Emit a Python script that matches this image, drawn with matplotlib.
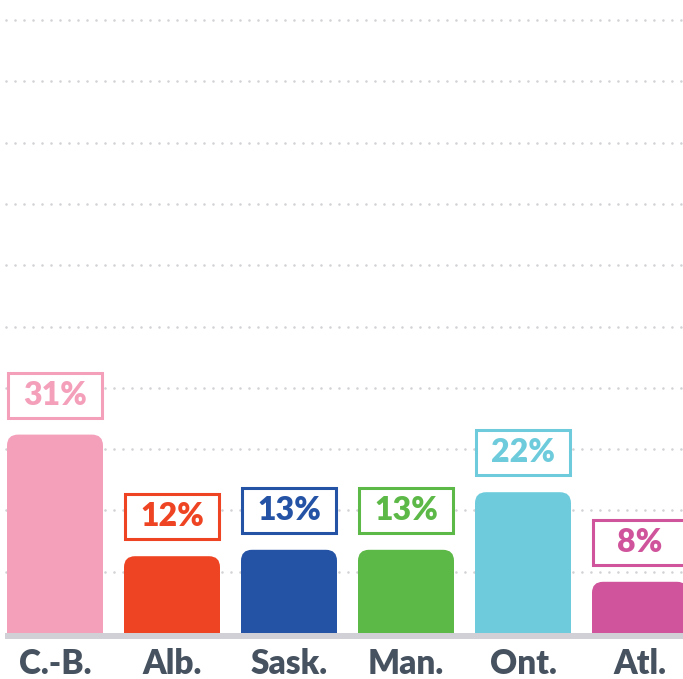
import matplotlib.pyplot as plt
from matplotlib.patches import FancyBboxPatch, Rectangle

plt.rcParams['font.family'] = ['Lato', 'DejaVu Sans']

regions = ["C.-B.", "Alb.", "Sask.", "Man.", "Ont.", "Atl."]
values = [31, 12, 13, 13, 22, 8]
colors = ["#f4a0bb", "#ef4423", "#2453a6", "#5cb947", "#6ecbdc", "#d0549b"]

W, H, DPI = 683, 679, 100
PX_X = 117.0          # px per x unit
PX_Y = 6.4            # px per y unit
BASE = 633            # baseline (px from top)
grid_levels = [61.3 / PX_Y * k for k in range(1, 11)]

fig = plt.figure(figsize=(W / DPI, H / DPI), dpi=DPI)
ax = fig.add_axes([0, (H - BASE) / H, 1, BASE / H])
ax.set_xlim(-55 / PX_X, (W - 55) / PX_X)
ax.set_ylim(0, BASE / PX_Y)
ax.axis("off")

# dotted gridlines
for g in grid_levels:
    ax.plot([-0.42, 6], [g, g], color="#d2d2d6", lw=1.9,
            linestyle=(0, (0.01, 3.4)), dash_capstyle="round", zorder=1)

bw = 96 / PX_X
r = 11 / PX_X
for i, (v, c) in enumerate(zip(values, colors)):
    bar = FancyBboxPatch((i - bw / 2, -5), bw, v + 5,
                         boxstyle=f"round,pad=0,rounding_size={r}",
                         mutation_aspect=PX_X / PX_Y,
                         fc=c, ec="none", zorder=2)
    ax.add_patch(bar)
    # label box
    y0 = v + 17 / PX_Y
    bh = 45 / PX_Y
    ax.add_patch(Rectangle((i - bw / 2 + 0.012, y0), bw - 0.024, bh, fc="white",
                           ec=c, lw=2.2, zorder=3))
    ax.text(i, y0 + bh / 2, f"{v}%", ha="center", va="center", color=c,
            fontsize=23, fontweight="heavy", zorder=4)
    ax.text(i, -31 / PX_Y, regions[i], ha="center", va="center",
            color="#46525f", fontsize=24, fontweight="heavy", clip_on=False)

# baseline
ax.plot([-50 / PX_X, 6], [-3 / PX_Y, -3 / PX_Y], color="#d0d0d6", lw=4.3,
        solid_capstyle="butt", clip_on=False, zorder=5)

fig.savefig("out.png", dpi=DPI)
